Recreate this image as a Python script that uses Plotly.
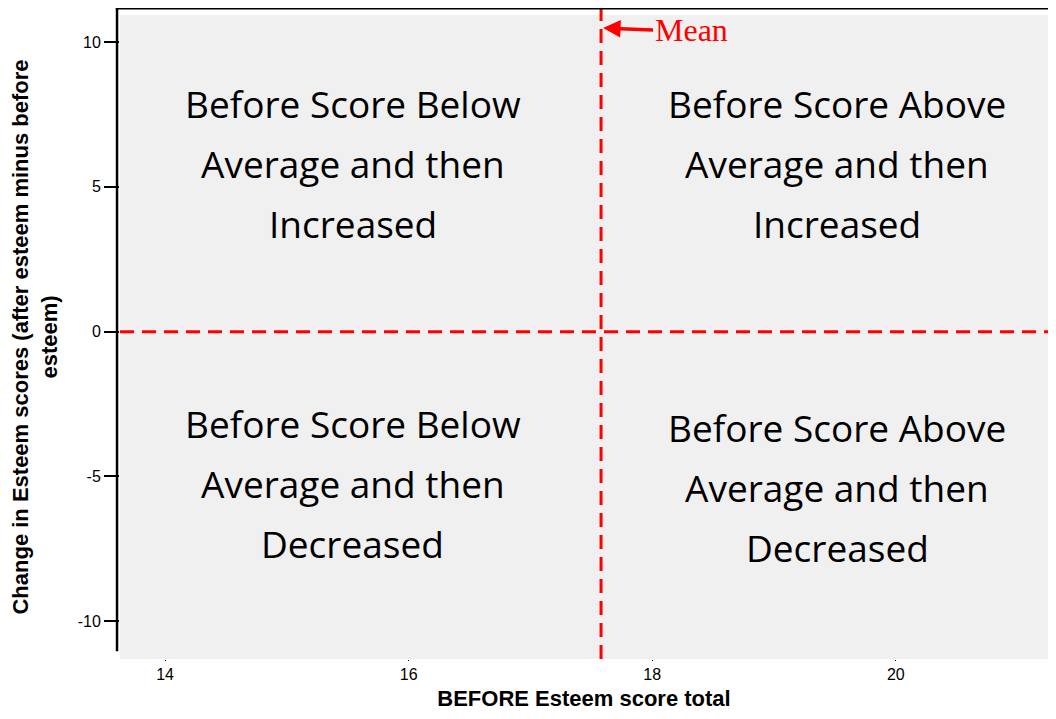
import plotly.graph_objects as go

# axis scale and reference lines
x_ticks = [14, 16, 18, 20]
y_ticks = [-10, -5, 0, 5, 10]
y_tick_text = ["-10", "-5", "0", "5", "10"]
x_range = [13.63, 21.25]
y_range = [-11.3, 10.93]
mean_before = 17.58
zero_change = 0

# quadrant labels: (x centre, y centre, lines)
quad_x = [15.54, 19.52, 15.54, 19.52]
quad_y = [5.79, 5.79, -5.24, -5.38]
quad_lines = [
    ["Before Score Below", "Average and then", "Increased"],
    ["Before Score Above", "Average and then", "Increased"],
    ["Before Score Below", "Average and then", "Decreased"],
    ["Before Score Above", "Average and then", "Decreased"],
]

fig = go.Figure()

# invisible trace so axes are drawn
fig.add_trace(go.Scatter(x=[mean_before], y=[zero_change], mode="markers",
                         marker=dict(opacity=0), hoverinfo="skip", showlegend=False))

red = "#ff0000"
dash = "14px,8px"
fig.add_shape(type="line", xref="x", yref="paper", x0=mean_before, x1=mean_before, y0=0, y1=1.01,
              line=dict(color=red, width=3, dash=dash))
fig.add_shape(type="line", xref="paper", yref="y", x0=0, x1=1, y0=zero_change, y1=zero_change,
              line=dict(color=red, width=3, dash=dash))

# frame lines (left axis and top line)
fig.add_shape(type="line", xref="paper", yref="paper", x0=-0.0032, x1=-0.0032, y0=0.012, y1=1.011,
              line=dict(color="black", width=2.5))
fig.add_shape(type="line", xref="paper", yref="paper", x0=-0.0045, x1=1, y0=1.0105, y1=1.0105,
              line=dict(color="black", width=2.5))

annotations = []
line_gap = 60
for qx, qy, lines in zip(quad_x, quad_y, quad_lines):
    n = len(lines)
    for i, txt in enumerate(lines):
        annotations.append(dict(x=qx, y=qy, xref="x", yref="y", text=txt, showarrow=False,
                                yshift=(n - 1) / 2 * line_gap - i * line_gap,
                                font=dict(family="Open Sans", size=37, color="black")))

annotations.append(dict(x=mean_before, y=10.55, xref="x", yref="y", text="Mean",
                        showarrow=True, ax=52, ay=2, axref="pixel", ayref="pixel",
                        arrowhead=2, arrowsize=1, arrowwidth=3.5, arrowcolor=red,
                        xanchor="left", yshift=-2, standoff=2,
                        font=dict(family="Liberation Serif", size=32, color=red)))
fig.update_layout(annotations=annotations)

fig.update_xaxes(range=x_range, tickvals=x_ticks, ticks="outside", ticklen=1, tickcolor="black",
                 showgrid=False, zeroline=False, showline=False, automargin=False,
                 tickfont=dict(family="Arial", size=16, color="black"),
                 title=dict(text="<b>BEFORE Esteem score total</b>", standoff=20,
                            font=dict(family="Arial", size=22, color="black")))
fig.update_yaxes(range=y_range, tickvals=y_ticks, ticktext=y_tick_text, ticks="outside",
                 ticklen=15, tickwidth=2, tickcolor="black",
                 showgrid=False, zeroline=False, showline=False, automargin=False,
                 tickfont=dict(family="Arial", size=16, color="black"),
                 title=dict(text="<b>Change in Esteem scores (after esteem minus before<br>esteem)</b>",
                            standoff=14, font=dict(family="Arial", size=22, color="black")))

fig.update_layout(width=1040, height=703, margin=dict(l=112, r=0, t=7, b=52),
                  plot_bgcolor="#f0f0f0", paper_bgcolor="white", showlegend=False)

fig.write_html("out.html")
